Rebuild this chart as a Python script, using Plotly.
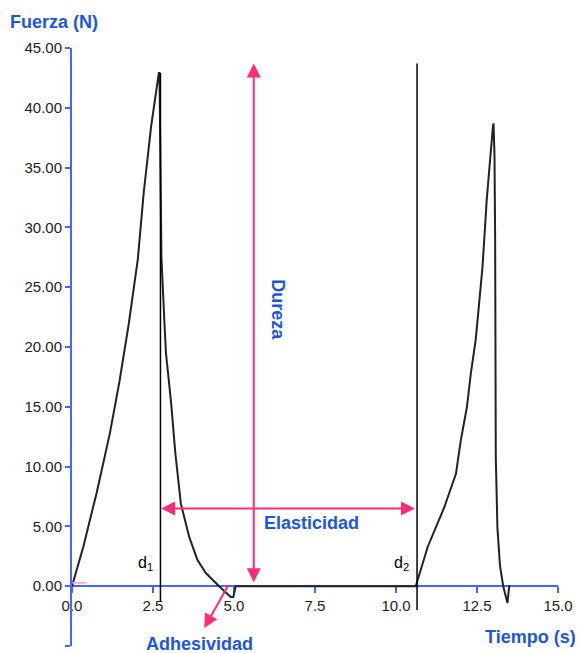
import plotly.graph_objects as go

# ---- data ----
time_s = [0.00, 0.35, 0.76, 1.17, 1.47, 1.75, 2.03, 2.21, 2.44, 2.65, 2.68,
          2.70, 2.73, 2.76, 2.85, 2.90, 3.06, 3.19, 3.36, 3.62, 3.87, 4.13,
          4.54, 4.75, 4.90, 4.98, 5.05, 7.50, 10.61,
          10.98, 11.49, 11.85, 12.00, 12.19, 12.31, 12.46, 12.67, 12.80,
          12.92, 12.99, 13.01, 13.04, 13.06, 13.08, 13.08, 13.13, 13.21,
          13.31, 13.44, 13.47, 13.50]
force_n = [0.0, 3.3, 7.8, 12.8, 17.2, 21.9, 27.3, 32.8, 38.4, 42.6, 42.9,
           42.9, 34.0, 27.5, 22.2, 19.5, 15.3, 11.1, 6.9, 4.1, 2.2, 1.1,
           0.0, -0.5, -0.9, -0.9, 0.0, 0.0, 0.0,
           3.3, 6.6, 9.4, 12.2, 15.0, 17.8, 20.6, 26.7, 32.3,
           36.5, 38.4, 38.7, 36.0, 29.1, 20.6, 10.8, 4.9, 1.7,
           0.0, -1.4, -0.6, 0.1]

x_ticks = [0.0, 2.5, 5.0, 7.5, 10.0, 12.5, 15.0]
y_ticks = [-5, 0, 5, 10, 15, 20, 25, 30, 35, 40, 45]

d1_time = 2.73
d2_time = 10.65
dureza_time = 5.61
dureza_top = 43.7
elasticidad_force = 6.5

BLUE_AXIS = "#4466ff"
BLUE_TXT = "#1f55dd"
PINK = "#ff2d78"

W, H = 580, 653
ML, MR, MT, MB = 72, 19, 48, 7
PW, PH = W - ML - MR, H - MT - MB


def px(xp):
    return (xp - ML) / PW


def py(yp):
    return (H - MB - yp) / PH


fig = go.Figure()
fig.add_trace(go.Scatter(x=time_s, y=force_n, mode="lines",
                         line=dict(color="#222222", width=2),
                         hoverinfo="skip", showlegend=False))

# vertical lines d1, d2
fig.add_shape(type="line", x0=d1_time, x1=d1_time, y0=-1.3, y1=42.9,
              line=dict(color="black", width=1.5))
fig.add_shape(type="line", x0=d2_time, x1=d2_time, y0=-2.0, y1=43.7,
              line=dict(color="black", width=1.5))
# small pink mark near origin
fig.add_shape(type="line", x0=0, x1=0.46, y0=0.28, y1=0.28,
              line=dict(color="#ff99dd", width=1.5))

annotations = []
# Dureza double arrow
annotations.append(dict(x=dureza_time, y=dureza_top, ax=dureza_time, ay=0.2,
                        xref="x", yref="y", axref="x", ayref="y", text="",
                        showarrow=True, arrowside="end+start", arrowhead=2,
                        startarrowhead=2, arrowsize=1.4, startarrowsize=1.4,
                        arrowwidth=2, arrowcolor=PINK))
# Elasticidad double arrow
annotations.append(dict(x=d1_time + 0.02, y=elasticidad_force, ax=d2_time - 0.02,
                        ay=elasticidad_force, xref="x", yref="y", axref="x",
                        ayref="y", text="", showarrow=True,
                        arrowside="end+start", arrowhead=2, startarrowhead=2,
                        arrowsize=1.4, startarrowsize=1.4, arrowwidth=2,
                        arrowcolor=PINK))
# Adhesividad arrow
annotations.append(dict(x=4.08, y=-3.5, ax=4.85, ay=0.2, xref="x", yref="y",
                        axref="x", ayref="y", text="", showarrow=True,
                        arrowhead=2, arrowsize=1.4, arrowwidth=2,
                        arrowcolor=PINK))

bold = dict(family="Liberation Sans, Arial", size=18, color=BLUE_TXT)


def label(text, xp, yp, font, angle=0):
    annotations.append(dict(text=text, x=px(xp), y=py(yp), xref="paper",
                            yref="paper", showarrow=False, xanchor="center",
                            yanchor="middle", font=font, textangle=angle))


label("<b>Fuerza (N)</b>", 54, 22, bold)
label("<b>Tiempo (s)</b>", 533, 637, bold)
label("<b>Adhesividad</b>", 200, 644, bold)
label("<b>Elasticidad</b>", 313, 523, bold)
label("<b>Dureza</b>", 279, 310, bold, angle=90)
dfont = dict(family="Liberation Sans, Arial", size=16, color="black")
label("d<sub>1</sub>", 146, 563, dfont)
label("d<sub>2</sub>", 404, 563, dfont)

tickfont = dict(family="Liberation Sans, Arial", size=15, color="#222222")

fig.update_layout(
    width=W, height=H,
    margin=dict(l=ML, r=MR, t=MT, b=MB, pad=0),
    paper_bgcolor="white", plot_bgcolor="white",
    showlegend=False,
    annotations=annotations,
    xaxis=dict(range=[0, 15], tickvals=x_ticks,
               ticktext=[f"{v:.1f}" for v in x_ticks],
               showgrid=False, zeroline=False, showline=True,
               linecolor=BLUE_AXIS, linewidth=2, ticks="outside",
               ticklen=6, tickwidth=2, tickcolor=BLUE_AXIS,
               anchor="free", position=0.1, layer="below traces",
               tickfont=tickfont),
    yaxis=dict(range=[-5, 45], tickvals=y_ticks,
               ticktext=[f"{v:.2f}" for v in y_ticks],
               showgrid=False, zeroline=False, showline=True,
               linecolor=BLUE_AXIS, linewidth=2, ticks="outside",
               ticklen=5, tickwidth=2, tickcolor=BLUE_AXIS,
               tickfont=tickfont),
)

fig.write_html(
    "out.html",
    config={"displayModeBar": False},
    post_script="document.body.style.margin='0px';"
                "document.body.style.padding='0px';"
                "document.body.style.overflow='hidden';",
)
